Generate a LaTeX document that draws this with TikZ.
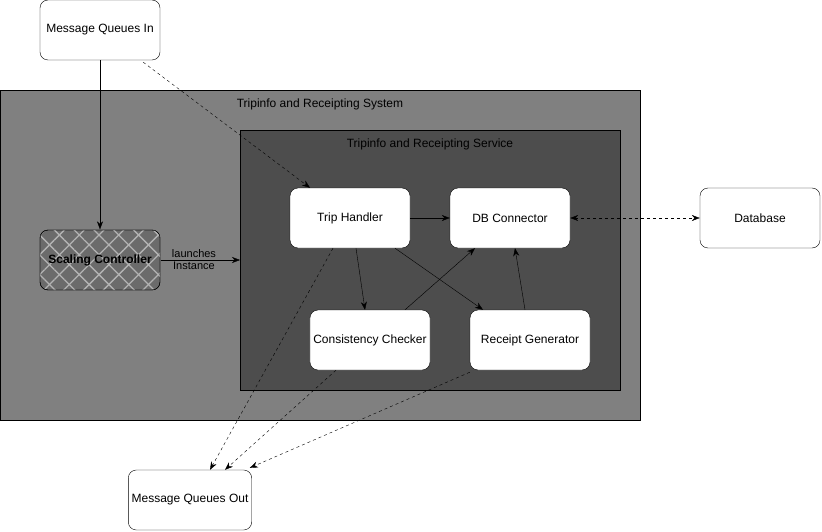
\documentclass[tikz,border=0pt]{standalone}
\usepackage{fontspec}
\setmainfont{Liberation Sans}
\usetikzlibrary{arrows.meta,patterns.meta}
\definecolor{sysgray}{HTML}{808080}
\definecolor{svcgray}{HTML}{4D4D4D}
\definecolor{hatchfill}{HTML}{6B6B6B}
\definecolor{hatchline}{HTML}{B3B3B3}
\tikzset{
  comp/.style={draw, fill=white, rounded corners=8pt, minimum width=120pt, minimum height=60pt, font=\fontsize{12}{14}\selectfont},
  flow/.style={-{Stealth[length=8pt,width=6pt]}},
  async/.style={flow, dash pattern=on 3pt off 3pt}
}
\begin{document}
\begin{tikzpicture}[x=1pt,y=-1pt]
			\useasboundingbox (0,0) rectangle (822,532);
			\draw[fill=sysgray] (0,90) rectangle (640,420);
			\node[font=\fontsize{12}{14}\selectfont] (systitle) at (320,104) {Tripinfo and Receipting System};
			\draw[fill=svcgray] (240,130) rectangle (620,390);
			\node[font=\fontsize{12}{14}\selectfont] (svctitle) at (430,144) {Tripinfo and Receipting Service};
			\coordinate (svcleft) at (240,260);
			\node[comp] (mqin) at (100,30) {Message Queues In};
			\node[comp, fill=hatchfill,
				preaction={fill=hatchfill},
				pattern={Lines[angle=45,distance=14pt,line width=1.3pt]}, pattern color=hatchline,
				postaction={pattern={Lines[angle=-45,distance=14pt,line width=1.3pt]}, pattern color=hatchline}] (scaler) at (100,260) {};
			\draw[rounded corners=8pt] (40,230) rectangle (160,290);
			\node[font=\fontsize{12}{14}\selectfont\bfseries, text=black] (scalerlabel) at (100,260) {Scaling Controller};
			\node[comp] (trip) at (350,218) {Trip Handler};
			\node[comp] (dbconn) at (510,218) {DB Connector};
			\node[comp] (consist) at (370,340) {Consistency Checker};
			\node[comp] (receipt) at (530,340) {Receipt Generator};
			\node[comp] (db) at (760,218) {Database};
			\node[comp] (mqout) at (190,500) {Message Queues Out};
			% Verbindungen
			\draw[flow] (mqin) -- (scaler);
			\draw[async] (mqin.south east)++(-17,2) -- ([xshift=-40pt]trip.north);
			\draw[flow] (scaler) -- (svcleft) node[pos=0.42, align=center, font=\fontsize{11}{12}\selectfont] {launches\\Instance};
			\draw[flow] (trip) -- (dbconn);
			\draw[flow] ([xshift=6pt]trip.south) -- ([xshift=-5pt]consist.north);
			\draw[flow] ([xshift=45pt]trip.south) -- ([xshift=-47pt]receipt.north);
			\draw[flow] ([xshift=35pt]consist.north) -- ([xshift=-35pt]dbconn.south);
			\draw[flow] ([xshift=-5pt]receipt.north) -- ([xshift=5pt]dbconn.south);
			\draw[async, {Stealth[length=8pt,width=6pt]}-{Stealth[length=8pt,width=6pt]}] (dbconn) -- (db);
			\draw[async] ([xshift=-17pt]trip.south) -- ([xshift=20pt]mqout.north);
			\draw[async] ([xshift=-34pt]consist.south) -- ([xshift=35pt]mqout.north);
			\draw[async] ([yshift=-2pt]receipt.south west) -- ([xshift=-2pt,yshift=2pt]mqout.north east);
		\end{tikzpicture}
\end{document}
